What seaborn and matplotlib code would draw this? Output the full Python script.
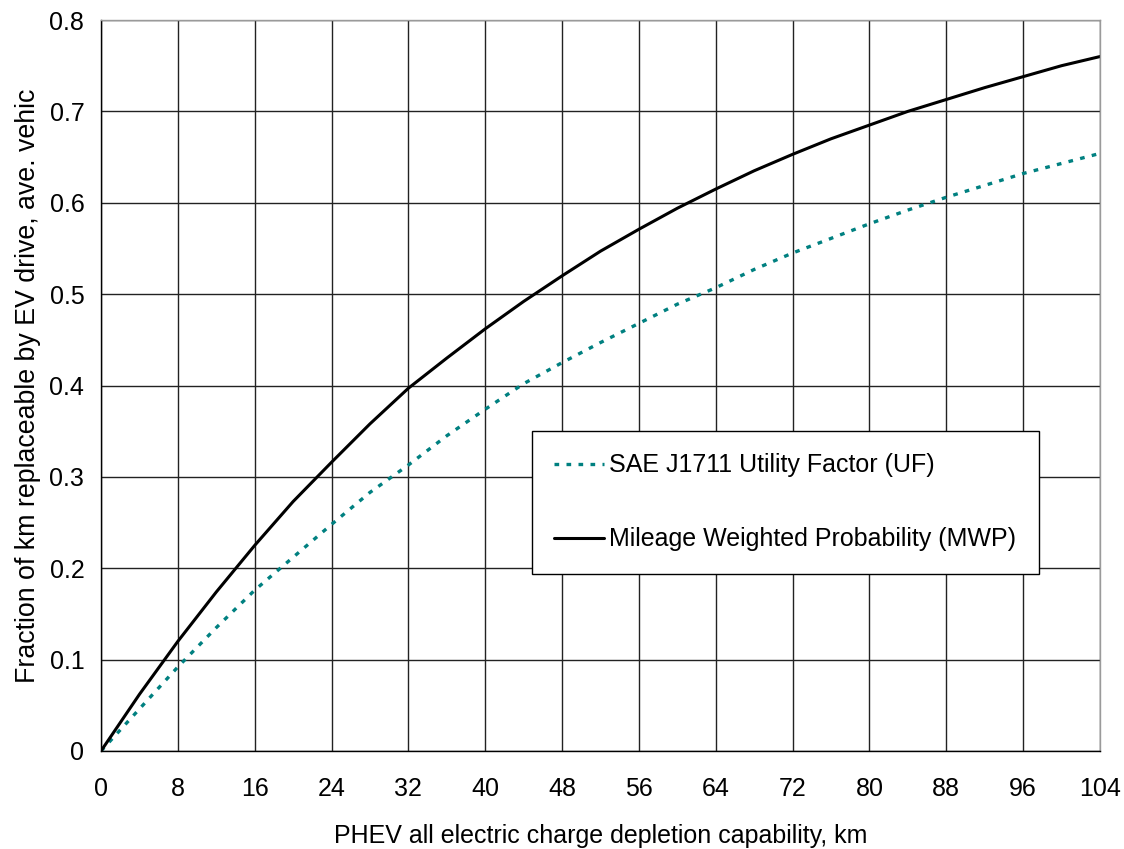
import matplotlib
matplotlib.use("Agg")
import matplotlib.pyplot as plt
import seaborn as sns
import pandas as pd

# All-electric range (km) and the two replaceable-distance fractions
range_km = [0, 4, 8, 12, 16, 20, 24, 28, 32, 36, 40, 44, 48, 52,
            56, 60, 64, 68, 72, 76, 80, 84, 88, 92, 96, 100, 104]
uf_values = [0.000, 0.046, 0.092, 0.135, 0.176, 0.212, 0.248, 0.283, 0.313,
             0.345, 0.374, 0.402, 0.425, 0.447, 0.468, 0.489, 0.507, 0.527,
             0.545, 0.561, 0.577, 0.592, 0.606, 0.619, 0.632, 0.643, 0.654]
mwp_values = [0.000, 0.062, 0.120, 0.174, 0.225, 0.273, 0.316, 0.358, 0.397,
              0.430, 0.462, 0.492, 0.520, 0.547, 0.571, 0.594, 0.615, 0.635,
              0.653, 0.670, 0.685, 0.700, 0.713, 0.726, 0.738, 0.750, 0.760]

uf_label = "SAE J1711 Utility Factor (UF)"
mwp_label = "Mileage Weighted Probability (MWP)"
x_ticks = list(range(0, 105, 8))
y_ticks = [0, 0.1, 0.2, 0.3, 0.4, 0.5, 0.6, 0.7, 0.8]
y_tick_labels = ["0", "0.1", "0.2", "0.3", "0.4", "0.5", "0.6", "0.7", "0.8"]

sns.set_style("white")
plt.rcParams["font.family"] = ["Liberation Sans", "DejaVu Sans"]
plt.rcParams["font.size"] = 18
plt.rcParams["text.color"] = "black"
plt.rcParams["axes.labelcolor"] = "black"

df = pd.DataFrame({"km": range_km, "uf": uf_values, "mwp": mwp_values})

fig = plt.figure(figsize=(11.24, 8.49), dpi=100)
ax = fig.add_axes([101 / 1124, 1 - 751 / 849, 999 / 1124, 731 / 849])

sns.lineplot(data=df, x="km", y="uf", ax=ax, color="#008080", lw=2.4,
             label=uf_label, linestyle=(0, (1.4, 2.2)))
sns.lineplot(data=df, x="km", y="mwp", ax=ax, color="black", lw=2.2,
             label=mwp_label)

ax.set_xlim(0, 104)
ax.set_ylim(0, 0.8)
ax.set_xticks(x_ticks)
ax.set_xticklabels([str(t) for t in x_ticks])
ax.set_yticks(y_ticks)
ax.set_yticklabels(y_tick_labels)
ax.grid(True, color="#222222", lw=1.0)
ax.set_axisbelow(True)
ax.tick_params(axis="both", direction="in", length=5, width=1,
               labelsize=18, colors="black")
ax.tick_params(axis="x", pad=19)
ax.tick_params(axis="y", pad=12)

for side in ("left", "bottom"):
    ax.spines[side].set_color("black")
    ax.spines[side].set_linewidth(1.0)
for side in ("top", "right"):
    ax.spines[side].set_color("#9a9a9a")
    ax.spines[side].set_linewidth(1.0)

ax.set_xlabel("PHEV all electric charge depletion capability, km",
              fontsize=18, labelpad=16)
ax.set_ylabel("Fraction of km replaceable by EV drive, ave. vehic",
              fontsize=19.3, labelpad=6)

leg = ax.legend(loc="upper left", bbox_to_anchor=(0.431, 0.438),
                borderaxespad=0, borderpad=0.9, labelspacing=2.0,
                handlelength=2.0, handletextpad=0.2,
                fontsize=18, frameon=True, fancybox=False, framealpha=1)
leg.get_frame().set_edgecolor("black")
leg.get_frame().set_linewidth(1.0)

fig.savefig("out.png", dpi=100)
